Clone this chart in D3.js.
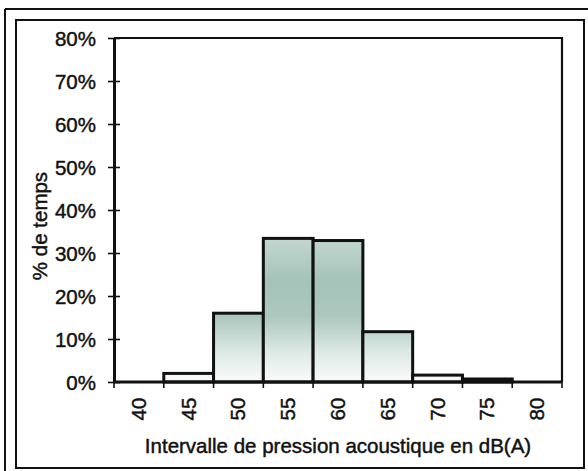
<!DOCTYPE html>
<html>
<head>
<meta charset="utf-8">
<script src="https://cdn.jsdelivr.net/npm/d3@7/dist/d3.min.js"></script>
<style>
  html, body { margin: 0; padding: 0; background: #fff; }
  svg { display: block; }
  text { font-family: "Liberation Sans", Arial, sans-serif; fill: #111; stroke: #111; stroke-width: 0.45px; }
</style>
</head>
<body>
<svg id="chart" width="588" height="471"></svg>
<script>
// Sound-level intervals, dB(A)
const categories = ["40", "45", "50", "55", "60", "65", "70", "75", "80"];
// Share of time spent in each interval (%)
const shares = [0, 2.0, 16.0, 33.4, 32.9, 11.7, 1.6, 0.7, 0];
// Y-axis ticks (%)
const yTicks = [0, 10, 20, 30, 40, 50, 60, 70, 80];

const svg = d3.select("#chart");
const plot = { left: 114, right: 562, top: 38, bottom: 382 };
const fontSize = 20.5;

const x = d3.scaleBand().domain(categories).range([plot.left, plot.right]).padding(0);
const y = d3.scaleLinear().domain([0, 80]).range([plot.bottom, plot.top]);

// Page rules and chart frame
svg.append("line").attr("x1", 5).attr("y1", 9).attr("x2", 588).attr("y2", 9)
  .attr("stroke", "#111").attr("stroke-width", 2);
svg.append("line").attr("x1", 5).attr("y1", 9).attr("x2", 5).attr("y2", 471)
  .attr("stroke", "#111").attr("stroke-width", 2);
svg.append("rect").attr("x", 16).attr("y", 20).attr("width", 568).attr("height", 448)
  .attr("fill", "none").attr("stroke", "#111").attr("stroke-width", 2);

// Bar fill: teal shading fading to white toward the baseline
const defs = svg.append("defs");
const grad = defs.append("linearGradient").attr("id", "barFill")
  .attr("gradientUnits", "userSpaceOnUse")
  .attr("x1", 0).attr("x2", 0).attr("y1", y(34)).attr("y2", y(0));
[[0, "#c4d9d2"], [0.3, "#a5c3b9"], [0.55, "#abc7be"], [0.8, "#dde9e5"], [1, "#f9fbfa"]]
  .forEach(([o, c]) => grad.append("stop").attr("offset", o).attr("stop-color", c));

// Plot area outline (top and right)
svg.append("path")
  .attr("d", `M${plot.left},${plot.top}H${plot.right}V${plot.bottom}`)
  .attr("fill", "none").attr("stroke", "#111").attr("stroke-width", 2.2);

// Bars
svg.append("g").selectAll("rect").data(categories).join("rect")
  .attr("x", d => x(d))
  .attr("y", (d, i) => y(shares[i]))
  .attr("width", x.bandwidth())
  .attr("height", (d, i) => y(0) - y(shares[i]))
  .attr("fill", "url(#barFill)")
  .attr("stroke", "#111").attr("stroke-width", 3);

// Y axis with crossing ticks
const yAxis = svg.append("g").attr("transform", `translate(${plot.left},0)`)
  .call(d3.axisLeft(y).tickValues(yTicks).tickFormat(d => d + "%").tickSizeInner(6).tickSizeOuter(0).tickPadding(12));
yAxis.select(".domain").attr("stroke", "#111").attr("stroke-width", 3);
yAxis.selectAll(".tick line").attr("stroke", "#111").attr("stroke-width", 1.6).attr("x2", 6).attr("x1", -6);
yAxis.selectAll(".tick text").attr("font-size", fontSize).attr("dy", "0.36em").attr("fill", "#111");

// X axis: ticks at interval boundaries, labels rotated
const xAxisG = svg.append("g").attr("transform", `translate(0,${plot.bottom})`);
xAxisG.append("line").attr("x1", plot.left).attr("x2", plot.right)
  .attr("stroke", "#111").attr("stroke-width", 3);
const bounds = categories.map(c => x(c)).concat([plot.right]);
xAxisG.selectAll(".bt").data(bounds).join("line").attr("class", "bt")
  .attr("x1", d => d).attr("x2", d => d).attr("y1", 0).attr("y2", 6)
  .attr("stroke", "#111").attr("stroke-width", 1.6);
xAxisG.selectAll(".xl").data(categories).join("text").attr("class", "xl")
  .attr("transform", d => `translate(${x(d) + x.bandwidth() / 2 + 7},${27}) rotate(-90)`)
  .attr("text-anchor", "middle")
  .attr("font-size", fontSize)
  .text(d => d);

// Axis titles
svg.append("text").attr("x", (plot.left + plot.right) / 2).attr("y", 453)
  .attr("text-anchor", "middle").attr("font-size", fontSize)
  .text("Intervalle de pression acoustique en dB(A)");
svg.append("text").attr("transform", "translate(47,226) rotate(-90)")
  .attr("text-anchor", "middle").attr("font-size", fontSize)
  .text("% de temps");
</script>
</body>
</html>
